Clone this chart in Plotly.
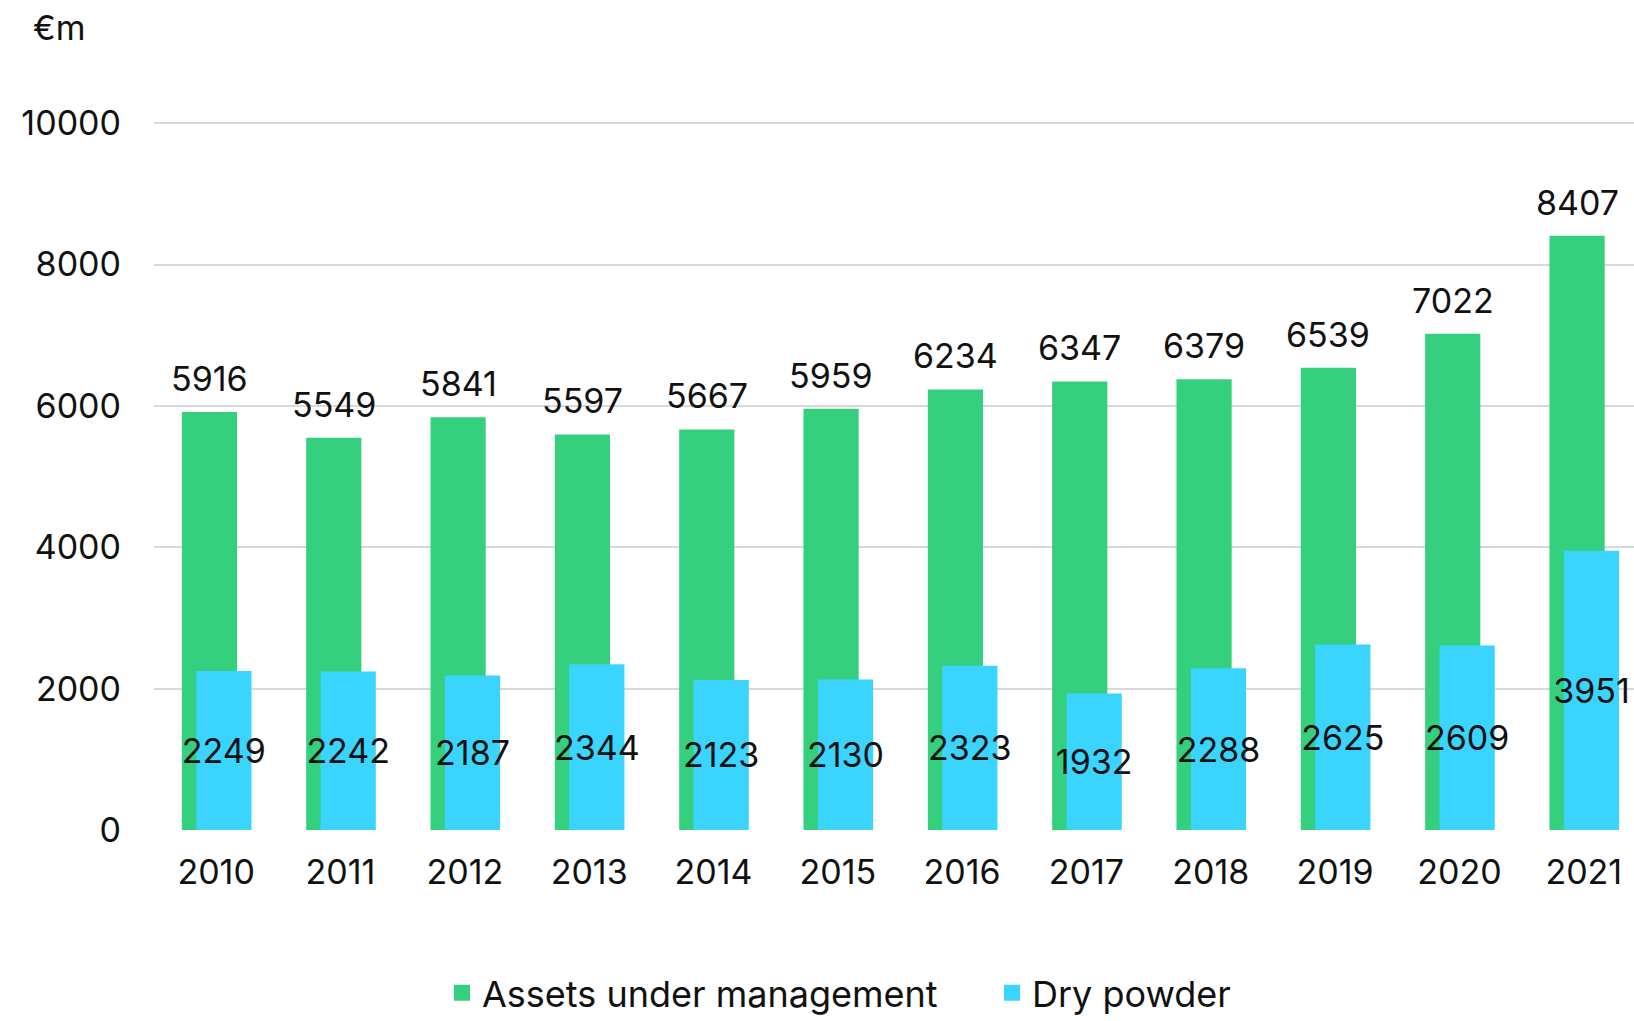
import plotly.graph_objects as go

years = [2010, 2011, 2012, 2013, 2014, 2015, 2016, 2017, 2018, 2019, 2020, 2021]
aum = [5916, 5549, 5841, 5597, 5667, 5959, 6234, 6347, 6379, 6539, 7022, 8407]
dry_powder = [2249, 2242, 2187, 2344, 2123, 2130, 2323, 1932, 2288, 2625, 2609, 3951]
y_ticks = [0, 2000, 4000, 6000, 8000, 10000]

GREEN = "#34D07E"
BLUE = "#3AD4FE"
FONT = "Inter"
FS = 34
TXT = "#111111"

BAR_W = 0.444
AUM_OFF = -0.276
DRY_OFF = -0.16

fig = go.Figure()
fig.add_trace(go.Bar(
    x=years, y=aum, name="Assets under management",
    marker=dict(color=GREEN, line=dict(width=0)),
    width=BAR_W, offset=AUM_OFF, showlegend=False,
    hovertemplate="%{x}: %{y}<extra>Assets under management</extra>",
))
fig.add_trace(go.Bar(
    x=years, y=dry_powder, name="Dry powder",
    marker=dict(color=BLUE, line=dict(width=0)),
    width=BAR_W, offset=DRY_OFF, showlegend=False,
    text=[str(v) for v in dry_powder], textposition="inside",
    insidetextanchor="middle", constraintext="none", textangle=0,
    textfont=dict(size=FS, color=TXT, family=FONT),
    hovertemplate="%{x}: %{y}<extra>Dry powder</extra>",
))
# legend entries (square markers)
for name, col in [("Assets under management", GREEN), ("Dry powder", BLUE)]:
    fig.add_trace(go.Scatter(
        x=[None], y=[None], mode="markers", name=name,
        marker=dict(symbol="square", size=18, color=col, line=dict(width=0)),
    ))

annotations = [dict(
    x=yr + AUM_OFF + BAR_W / 2, y=v, xref="x", yref="y",
    text=str(v), showarrow=False, yanchor="bottom", xanchor="center",
    yshift=11, font=dict(size=FS, color=TXT, family=FONT),
) for yr, v in zip(years, aum)]
annotations.append(dict(
    text="€m", xref="paper", yref="paper", x=-0.083, y=1.129,
    xanchor="left", yanchor="middle", showarrow=False,
    font=dict(size=FS, family=FONT, color=TXT),
))

fig.update_layout(
    barmode="overlay",
    width=1634, height=1021,
    margin=dict(l=154, r=0, t=118.8, b=190.5),
    plot_bgcolor="white", paper_bgcolor="white",
    font=dict(family=FONT, size=FS, color=TXT),
    xaxis=dict(
        range=[2009.5, 2021.404],
        tickvals=years, ticktext=[str(y) for y in years],
        showgrid=False, zeroline=False, showline=False, ticks="",
        tickfont=dict(size=FS, family=FONT, color=TXT),
        ticklabelstandoff=19,
    ),
    yaxis=dict(
        range=[0, 10060], tickvals=y_ticks, ticktext=[str(v) for v in y_ticks],
        showgrid=True, gridcolor="#D9D9D9", gridwidth=2,
        zeroline=False, showline=False, ticks="",
        tickfont=dict(size=FS, family=FONT, color=TXT),
        ticklabelstandoff=32,
    ),
    legend=dict(
        orientation="h", x=0.1946, xanchor="left", xref="paper",
        y=0.057, yanchor="top", yref="container",
        font=dict(size=36, family=FONT, color=TXT),
        itemsizing="trace", entrywidth=505, entrywidthmode="pixels",
    ),
    showlegend=True,
    annotations=annotations,
)

fig.write_html("out.html", config={"displayModeBar": False},
               post_script="document.body.style.margin='0';")
